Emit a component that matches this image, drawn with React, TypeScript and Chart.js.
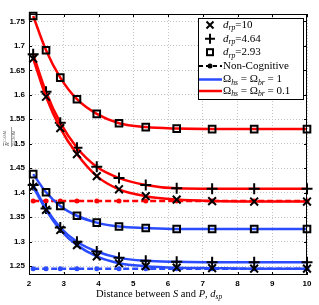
import { useEffect, useRef } from "react";
import { Chart, registerables } from "chart.js";
Chart.register(...registerables);

const xDist = [2.12, 2.49, 2.9, 3.38, 3.95, 4.59, 5.36, 6.25, 7.27, 8.48, 10];
const redSquare = [1.761, 1.691, 1.635, 1.591, 1.561, 1.542, 1.534, 1.531, 1.53, 1.53, 1.53];
const redPlus = [1.683, 1.606, 1.543, 1.492, 1.453, 1.43, 1.416, 1.409, 1.408, 1.408, 1.408];
const redCross = [1.674, 1.596, 1.532, 1.479, 1.434, 1.407, 1.393, 1.386, 1.383, 1.382, 1.382];
const redNonCog = [1.383, 1.383, 1.383, 1.383, 1.383, 1.383, 1.383, 1.383, 1.383, 1.383, 1.383];
const blueSquare = [1.438, 1.401, 1.373, 1.353, 1.339, 1.331, 1.328, 1.326, 1.326, 1.326, 1.326];
const bluePlus = [1.416, 1.368, 1.329, 1.3, 1.28, 1.267, 1.261, 1.259, 1.258, 1.258, 1.258];
const blueCross = [1.412, 1.365, 1.324, 1.293, 1.27, 1.256, 1.25, 1.247, 1.246, 1.245, 1.245];
const blueNonCog = [1.245, 1.245, 1.245, 1.245, 1.245, 1.245, 1.245, 1.245, 1.245, 1.245, 1.245];
const xTicks = [2, 3, 4, 5, 6, 7, 8, 9, 10];
const yTicks = [1.25, 1.3, 1.35, 1.4, 1.45, 1.5, 1.55, 1.6, 1.65, 1.7, 1.75];

const RED = "#ff0000";
const BLUE = "#2b4bff";
const SERIF = '"Liberation Serif", "DejaVu Serif", serif';

type Seg = { t: string; it?: boolean; sub?: boolean };

function drawRich(ctx: CanvasRenderingContext2D, x: number, y: number, segs: Seg[], size: number) {
  ctx.textBaseline = "middle";
  ctx.textAlign = "left";
  for (const s of segs) {
    const fs = s.sub ? size * 0.7 : size;
    ctx.font = `${s.it ? "italic " : ""}${fs}px ${SERIF}`;
    ctx.fillText(s.t, x, y + (s.sub ? size * 0.3 : 0));
    x += ctx.measureText(s.t).width;
  }
}

function pts(vals: number[]) {
  return vals.map((v, i) => ({ x: xDist[i], y: v }));
}

export default function App() {
  const ref = useRef<HTMLCanvasElement>(null);
  useEffect(() => {
    const lineBase = {
      borderWidth: 2.5,
      cubicInterpolationMode: "monotone" as const,
      pointBorderColor: "#000",
      pointBackgroundColor: "rgba(0,0,0,0)",
      pointBorderWidth: 2,
      clip: false as const,
    };
    const mk = (vals: number[], color: string, style: string, r: number) => ({
      ...lineBase,
      data: pts(vals),
      borderColor: color,
      pointStyle: style,
      pointRadius: r,
    });
    const dash = (vals: number[], color: string) => ({
      data: pts(vals),
      borderColor: color,
      borderWidth: 2.5,
      borderDash: [6, 3],
      pointStyle: "circle",
      pointRadius: 2.5,
      pointBackgroundColor: color,
      pointBorderColor: color,
      pointBorderWidth: 0,
      clip: false as const,
    });

    const decor = {
      id: "decor",
      afterDraw(chart: any) {
        const ctx: CanvasRenderingContext2D = chart.ctx;
        const a = chart.chartArea;
        const xs = chart.scales.x;
        const ys = chart.scales.y;
        ctx.save();
        ctx.strokeStyle = "#000";
        ctx.lineWidth = 1;
        ctx.strokeRect(a.left + 0.5, a.top + 0.5, a.right - a.left - 1, a.bottom - a.top - 1);
        ctx.beginPath();
        for (const t of xTicks) {
          const px = Math.round(xs.getPixelForValue(t)) + 0.5;
          ctx.moveTo(px, a.bottom);
          ctx.lineTo(px, a.bottom - 3);
          ctx.moveTo(px, a.top);
          ctx.lineTo(px, a.top + 3);
        }
        for (const t of yTicks) {
          const py = Math.round(ys.getPixelForValue(t)) + 0.5;
          ctx.moveTo(a.left, py);
          ctx.lineTo(a.left + 3, py);
          ctx.moveTo(a.right, py);
          ctx.lineTo(a.right - 3, py);
        }
        ctx.stroke();

        // legend
        const L = 198, T = 18, R = 303, B = 99;
        ctx.fillStyle = "#fff";
        ctx.fillRect(L, T, R - L, B - T);
        ctx.strokeRect(L + 0.5, T + 0.5, R - L, B - T);
        const mx = 210;
        const rows = [25, 38.7, 52.2, 66, 79.5, 91];
        ctx.lineWidth = 2;
        ctx.strokeStyle = "#000";
        ctx.beginPath();
        ctx.moveTo(mx - 3.5, rows[0] - 3.5);
        ctx.lineTo(mx + 3.5, rows[0] + 3.5);
        ctx.moveTo(mx + 3.5, rows[0] - 3.5);
        ctx.lineTo(mx - 3.5, rows[0] + 3.5);
        ctx.stroke();
        ctx.beginPath();
        ctx.moveTo(mx - 5, rows[1]);
        ctx.lineTo(mx + 5, rows[1]);
        ctx.moveTo(mx, rows[1] - 5);
        ctx.lineTo(mx, rows[1] + 5);
        ctx.stroke();
        ctx.strokeRect(mx - 3, rows[2] - 3, 6, 6);
        ctx.setLineDash([4, 3]);
        ctx.beginPath();
        ctx.moveTo(199, rows[3]);
        ctx.lineTo(222, rows[3]);
        ctx.stroke();
        ctx.setLineDash([]);
        ctx.fillStyle = "#000";
        ctx.beginPath();
        ctx.arc(mx, rows[3], 2.5, 0, Math.PI * 2);
        ctx.fill();
        ctx.lineWidth = 2.5;
        ctx.strokeStyle = BLUE;
        ctx.beginPath();
        ctx.moveTo(199, rows[4]);
        ctx.lineTo(222, rows[4]);
        ctx.stroke();
        ctx.strokeStyle = RED;
        ctx.beginPath();
        ctx.moveTo(199, rows[5]);
        ctx.lineTo(222, rows[5]);
        ctx.stroke();
        ctx.fillStyle = "#000";
        const tx = 223;
        drawRich(ctx, tx, rows[0], [{ t: "d", it: true }, { t: "rp", it: true, sub: true }, { t: "=10" }], 11);
        drawRich(ctx, tx, rows[1], [{ t: "d", it: true }, { t: "rp", it: true, sub: true }, { t: "=4.64" }], 11);
        drawRich(ctx, tx, rows[2], [{ t: "d", it: true }, { t: "rp", it: true, sub: true }, { t: "=2.93" }], 11);
        drawRich(ctx, tx, rows[3], [{ t: "Non-Cognitive" }], 11);
        drawRich(ctx, tx, rows[4], [{ t: "Ω" }, { t: "hs", it: true, sub: true }, { t: " = Ω" }, { t: "br", it: true, sub: true }, { t: " = 1" }], 11);
        drawRich(ctx, tx, rows[5], [{ t: "Ω" }, { t: "hs", it: true, sub: true }, { t: " = Ω" }, { t: "br", it: true, sub: true }, { t: " = 0.1" }], 11);

        drawRich(ctx, 96, 294, [
          { t: "Distance between " },
          { t: "S", it: true },
          { t: " and " },
          { t: "P", it: true },
          { t: ", " },
          { t: "d", it: true },
          { t: "sp", it: true, sub: true },
        ], 10.5);

        ctx.save();
        ctx.translate(11, 137);
        ctx.rotate(-Math.PI / 2);
        ctx.fillStyle = "#555";
        ctx.strokeStyle = "#555";
        ctx.lineWidth = 0.6;
        ctx.font = `italic 6px ${SERIF}`;
        ctx.textBaseline = "middle";
        ctx.textAlign = "left";
        ctx.fillText("R", -9, -4);
        ctx.font = `4px ${SERIF}`;
        ctx.fillText("CASM", -5, -6);
        ctx.font = `italic 6px ${SERIF}`;
        ctx.fillText("R", -9, 5);
        ctx.font = `4px ${SERIF}`;
        ctx.fillText("CSOM", -5, 3);
        ctx.beginPath();
        ctx.moveTo(-10, 0.5);
        ctx.lineTo(10, 0.5);
        ctx.moveTo(-9, -7.5);
        ctx.lineTo(-5.5, -7.5);
        ctx.moveTo(-9, 1.8);
        ctx.lineTo(-5.5, 1.8);
        ctx.stroke();
        ctx.restore();
        ctx.restore();
      },
    };

    const chart = new Chart(ref.current!, {
      type: "line",
      data: {
        datasets: [
          mk(redCross, RED, "crossRot", 5.5),
          mk(redPlus, RED, "cross", 5.5),
          mk(redSquare, RED, "rect", 4.7),
          mk(blueCross, BLUE, "crossRot", 5.5),
          mk(bluePlus, BLUE, "cross", 5.5),
          mk(blueSquare, BLUE, "rect", 4.7),
          dash(redNonCog, RED),
          dash(blueNonCog, BLUE),
        ] as any,
      },
      options: {
        animation: false,
        responsive: false,
        devicePixelRatio: 1,
        layout: { padding: { top: 14, right: 12, left: 0, bottom: 0 } },
        plugins: { legend: { display: false }, tooltip: { enabled: false } },
        scales: {
          x: {
            type: "linear",
            min: 2,
            max: 10,
            afterBuildTicks: (s: any) => {
              s.ticks = xTicks.map((v) => ({ value: v }));
            },
            afterFit: (s: any) => {
              s.height = 30;
            },
            grid: { color: "#c4c4c4", drawTicks: false, lineWidth: 1 },
            border: { display: false, dash: [1, 2] },
            ticks: {
              color: "#000",
              padding: 4,
              maxRotation: 0,
              font: { family: '"Liberation Sans", Arial, sans-serif', size: 8, weight: "bold" },
              callback: (v: any) => String(v),
            },
          },
          y: {
            type: "linear",
            min: 1.232,
            max: 1.765,
            afterBuildTicks: (s: any) => {
              s.ticks = yTicks.map((v) => ({ value: v }));
            },
            afterFit: (s: any) => {
              s.width = 29;
            },
            grid: { color: "#c4c4c4", drawTicks: false, lineWidth: 1 },
            border: { display: false, dash: [1, 2] },
            ticks: {
              color: "#000",
              padding: 4,
              font: { family: '"Liberation Sans", Arial, sans-serif', size: 8, weight: "bold" },
              callback: (v: any) => String(parseFloat(Number(v).toFixed(2))),
            },
          },
        },
      },
      plugins: [decor],
    } as any);
    return () => chart.destroy();
  }, []);
  return (
    <div style={{ position: "absolute", left: 0, top: 0, width: 319, height: 305, background: "#fff" }}>
      <canvas ref={ref} width={319} height={305} />
    </div>
  );
}
